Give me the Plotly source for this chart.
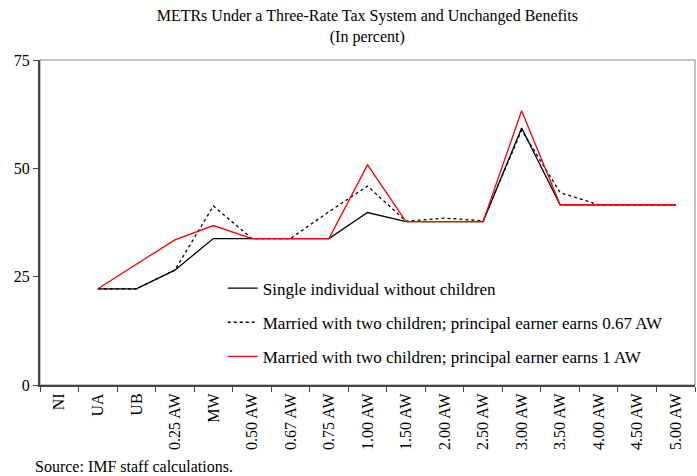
import plotly.graph_objects as go

categories = ["NI", "UA", "UB", "0.25 AW", "MW", "0.50 AW", "0.67 AW", "0.75 AW",
              "1.00 AW", "1.50 AW", "2.00 AW", "2.50 AW", "3.00 AW", "3.50 AW",
              "4.00 AW", "4.50 AW", "5.00 AW"]

single = [None, 22.2, 22.2, 26.5, 33.8, 33.8, 33.8, 33.8,
          39.8, 37.7, 37.7, 37.7, 59.3, 41.6, 41.6, 41.6, 41.6]
married_067 = [None, 22.2, 22.2, 26.5, 41.3, 33.8, 33.8, 40.0,
               45.9, 37.8, 38.5, 37.9, 58.8, 44.4, 41.6, 41.6, 41.6]
married_1 = [None, 22.2, 27.8, 33.5, 36.8, 33.8, 33.8, 33.8,
             50.8, 37.7, 37.7, 37.7, 63.3, 41.6, 41.6, 41.6, 41.6]

names = ["Single individual without children",
         "Married with two children; principal earner earns 0.67 AW",
         "Married with two children; principal earner earns 1 AW"]

font = "Liberation Serif, Times New Roman, serif"

fig = go.Figure()
fig.add_trace(go.Scatter(x=categories, y=single, name=names[0], mode="lines",
                         line=dict(color="black", width=1.3), legendgroup="a"))
fig.add_trace(go.Scatter(x=categories, y=married_067, name=names[1], mode="lines",
                         line=dict(color="black", width=1.3, dash="dot"), legendgroup="b"))
fig.add_trace(go.Scatter(x=categories, y=married_1, name=names[2], mode="lines",
                         line=dict(color="#ff0000", width=1.3), legendgroup="c"))

# light grey frame on top/right
fig.add_shape(type="rect", xref="paper", yref="paper", x0=0, y0=0, x1=1, y1=1,
              line=dict(color="#888888", width=1), layer="below")

fig.update_layout(
    width=697, height=476,
    margin=dict(l=40, r=2, t=60, b=91),
    paper_bgcolor="white", plot_bgcolor="white",
    font=dict(family=font, size=16, color="black"),
    title=dict(text="METRs Under a Three-Rate Tax System and Unchanged Benefits<br>(In percent)",
               x=0.527, xanchor="center", y=0.956, yanchor="top", automargin=False,
               font=dict(size=16, family=font)),
    showlegend=True,
    legend=dict(x=0.279, y=0.352, xanchor="left", yanchor="top",
                bgcolor="rgba(0,0,0,0)", font=dict(size=17, family=font),
                tracegroupgap=9, itemwidth=30),
    annotations=[dict(text="Source: IMF staff calculations.", xref="paper", yref="paper",
                      x=-0.01, y=-0.283, xanchor="left", yanchor="bottom",
                      showarrow=False, font=dict(size=16, family=font))],
)

fig.update_xaxes(type="category", categoryorder="array", categoryarray=categories,
                 range=[-0.5, 16.5], tickangle=-90, tickson="boundaries",
                 ticks="outside", ticklen=5, tickcolor="#444444", automargin=False,
                 showline=True, linecolor="#444444", linewidth=2,
                 showgrid=False, zeroline=False, tickfont=dict(size=16))
fig.update_yaxes(range=[0, 75], tickvals=[0, 25, 50, 75], automargin=False,
                 ticks="outside", ticklen=5, tickcolor="#444444",
                 showline=True, linecolor="#444444", linewidth=2,
                 showgrid=False, zeroline=False, tickfont=dict(size=16))

# drop the browser's default page margin so the figure fills the window
fig.write_html("out.html", config={"displayModeBar": False},
               post_script="document.body.style.margin='0';")
